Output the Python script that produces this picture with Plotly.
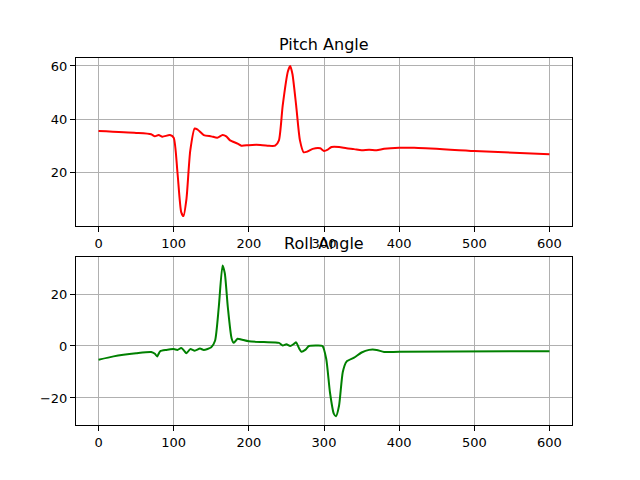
import plotly.graph_objects as go
from plotly.subplots import make_subplots

pitch_x = [0, 50, 70, 75, 80, 85, 95, 100, 105, 110, 113, 117, 122, 128, 132, 140, 150, 158, 165, 170, 175,
           185, 190, 200, 210, 225, 235, 240, 245, 252, 255, 258, 263, 268, 273, 278, 285, 295, 300, 305,
           310, 320, 330, 340, 350, 360, 370, 380, 400, 420, 500, 600]
pitch_y = [35.5, 34.8, 34.3, 33.5, 34, 33.4, 34, 33, 20, 5, 3.5, 10, 28, 36.5, 36, 34, 33.5, 33, 34, 33.5, 32,
           30.8, 30, 30.2, 30.3, 30, 30, 32, 45, 58, 60, 57, 45, 32, 27.5, 27.8, 28.8, 29, 28, 28.5,
           29.5, 29.5, 29, 28.7, 28.3, 28.5, 28.3, 28.8, 29.2, 29.2, 28, 26.8]

roll_x = [0, 20, 50, 70, 75, 78, 82, 90, 100, 105, 110, 113, 117, 122, 128, 135, 140, 150, 155, 160, 165, 168,
          172, 177, 180, 185, 190, 200, 220, 240, 245, 250, 255, 260, 263, 267, 270, 275, 280, 290, 298,
          303, 308, 313, 316, 320, 325, 330, 340, 350, 360, 370, 380, 400, 600]
roll_y = [-5.3, -4, -2.8, -2.3, -3, -4, -2, -1.5, -1.2, -1.5, -0.8, -1.5, -2.8, -1.2, -1.8, -1, -1.5, -0.5, 2,
          15, 31, 28, 15, 3, 1.2, 2.8, 2.5, 1.8, 1.5, 1.2, 0.2, 0.7, 0, 0.8, 1.4, -1, -2.2, -1.5, 0, 0.2, 0,
          -5, -18, -26, -27, -23, -10, -6, -4.5, -2.5, -1.5, -1.5, -2.3, -2.2, -2]

fig = make_subplots(rows=2, cols=1, vertical_spacing=0.085)
fig.add_trace(go.Scatter(x=pitch_x, y=pitch_y, mode="lines", line=dict(color="red", width=2, shape="spline", smoothing=0.6)), 1, 1)
fig.add_trace(go.Scatter(x=roll_x, y=roll_y, mode="lines", line=dict(color="green", width=2, shape="spline", smoothing=0.6)), 2, 1)

ax = dict(showline=True, linecolor="black", mirror=True, ticks="outside", tickcolor="black",
          showgrid=True, gridcolor="#b0b0b0", zeroline=False, tickfont=dict(size=13, color="black"))
fig.update_xaxes(range=[-30, 630], tickvals=[0, 100, 200, 300, 400, 500, 600], **ax)
fig.update_yaxes(**ax)
fig.update_yaxes(range=[-0.2, 63], tickvals=[20, 40, 60], row=1, col=1)
fig.update_yaxes(range=[-30.4, 34.2], tickvals=[-20, 0, 20], row=2, col=1)

fig.add_annotation(text="Pitch Angle", xref="paper", yref="paper", x=0.5, y=1.0, yanchor="bottom",
                   showarrow=False, font=dict(size=16, color="black"), yshift=2)
fig.add_annotation(text="Roll Angle", xref="paper", yref="paper", x=0.5, y=0.4575, yanchor="bottom",
                   showarrow=False, font=dict(size=16, color="black"), yshift=2)

fig.update_layout(width=640, height=480, showlegend=False, plot_bgcolor="white", paper_bgcolor="white",
                  font=dict(family="DejaVu Sans"), margin=dict(l=68, r=76, t=50, b=63))
fig.write_html("out.html")
